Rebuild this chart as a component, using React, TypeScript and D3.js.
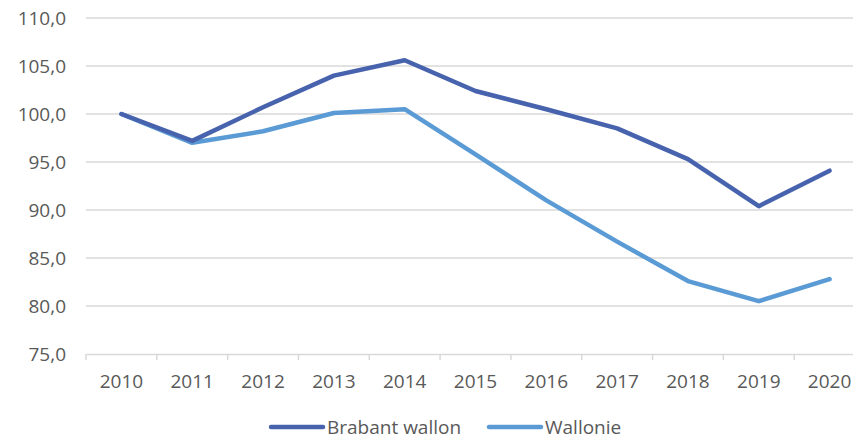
import { useEffect, useRef } from 'react';
import * as d3 from 'd3';

const years = ['2010', '2011', '2012', '2013', '2014', '2015', '2016', '2017', '2018', '2019', '2020'];
const brabantWallon = [100.0, 97.2, 100.7, 104.0, 105.6, 102.4, 100.5, 98.5, 95.3, 90.4, 94.1];
const wallonie = [100.0, 97.0, 98.2, 100.1, 100.5, 95.8, 91.0, 86.7, 82.6, 80.5, 82.8];
const yTicks = [75, 80, 85, 90, 95, 100, 105, 110];

const series = [
  { name: 'Brabant wallon', values: brabantWallon, color: '#4863ad' },
  { name: 'Wallonie', values: wallonie, color: '#5b9bd5' },
];

function App() {
  const svgRef = useRef<SVGSVGElement | null>(null);
  const width = 853;
  const height = 440;
  const margin = { top: 18, right: -12, bottom: 86, left: 86 };
  const font = "'Open Sans', sans-serif";

  useEffect(() => {
    const svg = d3.select(svgRef.current);
    svg.selectAll('*').remove();

    const xScale = d3
      .scaleBand()
      .domain(years)
      .range([margin.left, width - margin.right]);

    const yScale = d3
      .scaleLinear()
      .domain([75, 110])
      .range([height - margin.bottom, margin.top]);

    // gridlines
    svg
      .append('g')
      .selectAll('line')
      .data(yTicks.filter((t) => t > 75))
      .enter()
      .append('line')
      .attr('x1', margin.left)
      .attr('x2', width)
      .attr('y1', (d) => yScale(d))
      .attr('y2', (d) => yScale(d))
      .attr('stroke', '#d9d9d9')
      .attr('stroke-width', 1.5);

    // y labels
    svg
      .append('g')
      .selectAll('text')
      .data(yTicks)
      .enter()
      .append('text')
      .attr('x', 66)
      .attr('y', (d) => yScale(d))
      .attr('dy', '0.35em')
      .attr('text-anchor', 'end')
      .attr('font-family', font)
      .attr('font-size', 19)
      .attr('fill', '#595959')
      .text((d) => d3.format('.1f')(d).replace('.', ','));

    // x axis
    const xAxis = (g: d3.Selection<SVGGElement, unknown, null, undefined>) =>
      g
        .attr('transform', `translate(0,${yScale(75)})`)
        .call(d3.axisBottom(xScale).tickSize(0).tickPadding(28))
        .call((g) => g.select('.domain').attr('stroke', '#d9d9d9').attr('stroke-width', 1.5))
        .call((g) =>
          g
            .selectAll('.tick text')
            .attr('font-family', font)
            .attr('font-size', 19)
            .attr('fill', '#595959')
            .attr('dy', '0.32em')
        );
    svg.append<SVGGElement>('g').call(xAxis);

    // category boundary ticks
    svg
      .append('g')
      .selectAll('line')
      .data(years)
      .enter()
      .append('line')
      .attr('x1', (d) => xScale(d) as number)
      .attr('x2', (d) => xScale(d) as number)
      .attr('y1', yScale(75))
      .attr('y2', yScale(75) + 6)
      .attr('stroke', '#d9d9d9')
      .attr('stroke-width', 1.5);

    const line = d3
      .line<number>()
      .x((_, i) => (xScale(years[i]) as number) + xScale.bandwidth() / 2)
      .y((d) => yScale(d));

    svg
      .append('g')
      .selectAll('path')
      .data(series.slice().reverse())
      .enter()
      .append('path')
      .attr('d', (s) => line(s.values))
      .attr('fill', 'none')
      .attr('stroke', (s) => s.color)
      .attr('stroke-width', 4.5)
      .attr('stroke-linecap', 'round')
      .attr('stroke-linejoin', 'round');

    // legend
    const legendX = [271, 489];
    const legend = svg
      .append('g')
      .selectAll('g')
      .data(series)
      .enter()
      .append('g')
      .attr('transform', (_, i) => `translate(${legendX[i]},427)`);
    legend
      .append('line')
      .attr('x1', 0)
      .attr('x2', 52)
      .attr('stroke', (s) => s.color)
      .attr('stroke-width', 4.5)
      .attr('stroke-linecap', 'round');
    legend
      .append('text')
      .attr('x', 56)
      .attr('dy', '0.35em')
      .attr('font-family', font)
      .attr('font-size', 19)
      .attr('fill', '#595959')
      .text((s) => s.name);
  }, []);

  return (
    <svg
      ref={svgRef}
      width={width}
      height={height}
      style={{ position: 'absolute', left: 0, top: 0, background: '#fff' }}
    />
  );
}

export default App;
